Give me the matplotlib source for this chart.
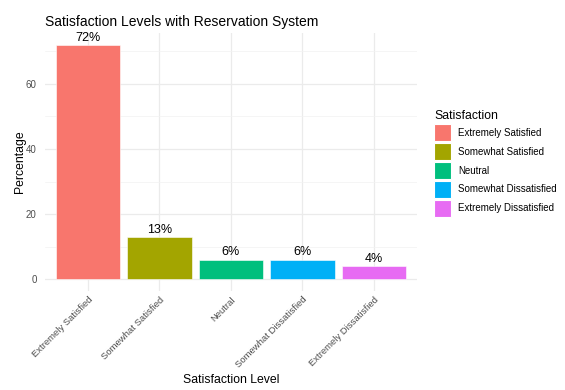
import matplotlib.pyplot as plt
from matplotlib.patches import Patch
from matplotlib.ticker import MultipleLocator

plt.rcParams['font.family'] = ['Liberation Sans', 'DejaVu Sans']

levels = ['Extremely Satisfied', 'Somewhat Satisfied', 'Neutral',
          'Somewhat Dissatisfied', 'Extremely Dissatisfied']
pct = [72, 13, 6, 6, 4]
labels = ['72%', '13%', '6%', '6%', '4%']
colors = ['#F8766D', '#A3A500', '#00BF7D', '#00B0F6', '#E76BF3']

fig = plt.figure(figsize=(5.65, 3.9), dpi=100)
ax = fig.add_axes([0.0796, 0.254, 0.658, 0.661])

x = list(range(1, len(levels) + 1))
ax.bar(x, pct, width=0.9, color=colors, edgecolor='white', linewidth=0.4, zorder=3)
for xi, v, lab in zip(x, pct, labels):
    ax.text(xi, v + 0.4, lab, ha='center', va='bottom', fontsize=9, color='black', zorder=4)

ax.set_xlim(0.4, 5.6)
ax.set_ylim(-3.6, 75.6)
ax.set_xticks(x)
ax.set_xticklabels(levels, rotation=45, ha='right', rotation_mode='anchor',
                   fontsize=6.8, color='#4D4D4D')
ax.yaxis.set_major_locator(MultipleLocator(20))
ax.yaxis.set_minor_locator(MultipleLocator(10))
ax.tick_params(axis='y', labelsize=7, labelcolor='#4D4D4D', length=0, pad=6)
ax.tick_params(axis='x', length=0, pad=3)
ax.tick_params(which='minor', length=0)
ax.grid(True, which='major', color='#EBEBEB', linewidth=0.9, zorder=0)
ax.grid(True, which='minor', axis='y', color='#F2F2F2', linewidth=0.5, zorder=0)
for s in ax.spines.values():
    s.set_visible(False)

ax.set_xlabel('Satisfaction Level', fontsize=8.8, labelpad=3)
ax.set_ylabel('Percentage', fontsize=8.8, labelpad=0)
ax.set_title('Satisfaction Levels with Reservation System', fontsize=10, loc='left', pad=5)

handles = [Patch(facecolor=c, edgecolor='white', linewidth=0.8) for c in colors]
leg = fig.legend(handles, levels, title='Satisfaction', loc='upper left',
                 bbox_to_anchor=(0.768, 0.717), frameon=False, fontsize=7,
                 title_fontsize=8.8, handlelength=1.8, handleheight=2.3,
                 labelspacing=0.2, handletextpad=0.7, alignment='left',
                 borderaxespad=0, borderpad=0)

fig.savefig('out.png', dpi=100)
